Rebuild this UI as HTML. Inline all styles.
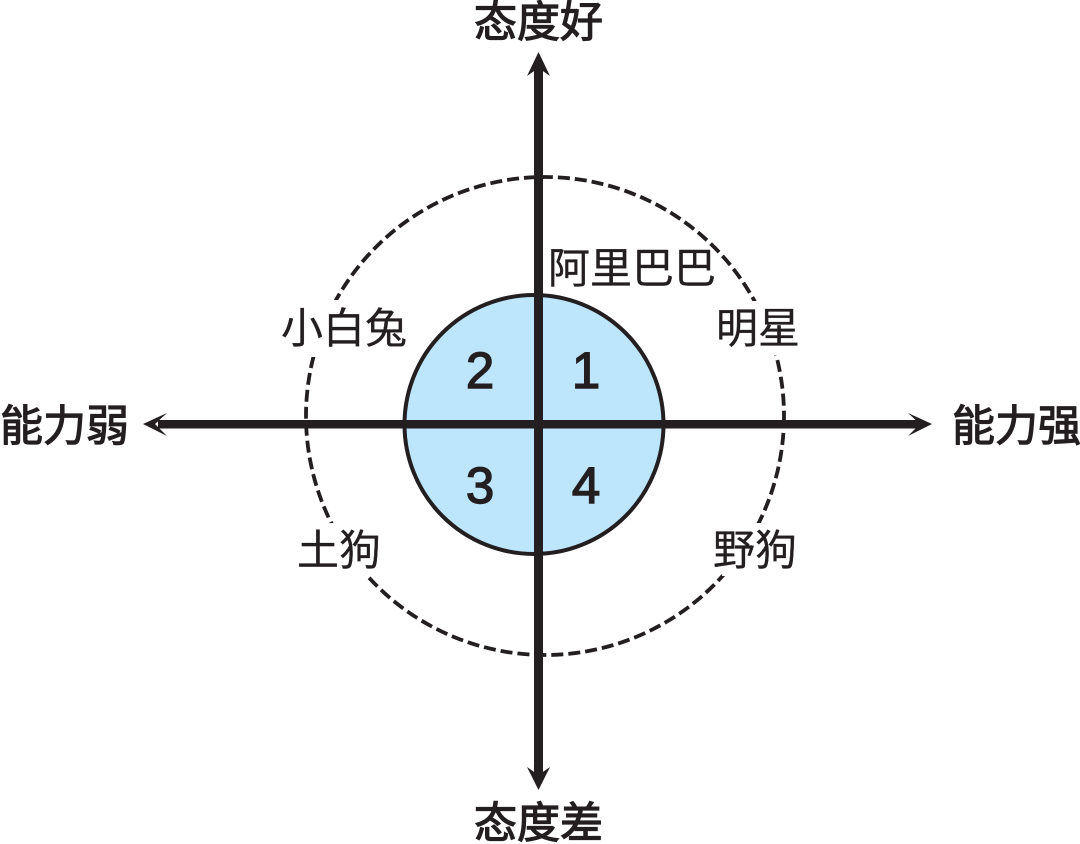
<!DOCTYPE html>
<html lang="zh">
<head>
<meta charset="utf-8">
<style>
html,body{margin:0;padding:0;background:#fff;}
body{width:1080px;height:844px;overflow:hidden;}
svg{display:block;}
text{fill:#231f20;font-family:"Liberation Sans","Noto Sans CJK SC",sans-serif;}
.b{font-size:43px;font-weight:400;stroke:#231f20;stroke-width:1.2px;}
.l{font-size:42px;stroke:#231f20;stroke-width:.3px;}
.n{font-size:51px;font-family:"Liberation Sans",sans-serif;stroke:#231f20;stroke-width:1.4px;}
</style>
</head>
<body>
<svg width="1080" height="844" viewBox="0 0 1080 844" xmlns="http://www.w3.org/2000/svg">
<rect width="1080" height="844" fill="#fff"/>
<circle cx="545" cy="416" r="239" fill="none" stroke="#231f20" stroke-width="3.8" stroke-dasharray="12 5"/>
<rect x="278" y="300" width="62" height="57" fill="#fff"/>
<rect x="748" y="301" width="60" height="54" fill="#fff"/>
<rect x="290" y="523" width="78" height="53" fill="#fff"/>
<rect x="722" y="523" width="76" height="53" fill="#fff"/>
<circle cx="534" cy="424.5" r="129.5" fill="#bde5fb" stroke="#231f20" stroke-width="4"/>
<rect x="534" y="66" width="9" height="712" fill="#231f20"/>
<rect x="158" y="420" width="762" height="8.5" fill="#231f20"/>
<polygon points="538.5,52 550,76 538.5,68 527,76" fill="#231f20"/>
<polygon points="538.5,790 550,767 538.5,775 527,767" fill="#231f20"/>
<polygon points="143,424 167,413 155,424 167,436" fill="#231f20"/>
<polygon points="932,424 908,413 920,424 908,436" fill="#231f20"/>
<text class="b" x="474" y="37">态度好</text>
<text class="b" x="474" y="838">态度差</text>
<text class="b" x="0" y="441">能力弱</text>
<text class="b" x="952" y="441">能力强</text>
<text class="l" x="548" y="283">阿里巴巴</text>
<text class="l" x="281" y="343">小白兔</text>
<text class="l" x="716" y="343">明星</text>
<text class="l" x="297" y="565">土狗</text>
<text class="l" x="713" y="565">野狗</text>
<text class="n" x="586" y="388" text-anchor="middle">1</text>
<text class="n" x="480" y="388" text-anchor="middle">2</text>
<text class="n" x="480" y="503" text-anchor="middle">3</text>
<text class="n" x="586" y="503" text-anchor="middle">4</text>
</svg>
</body>
</html>
